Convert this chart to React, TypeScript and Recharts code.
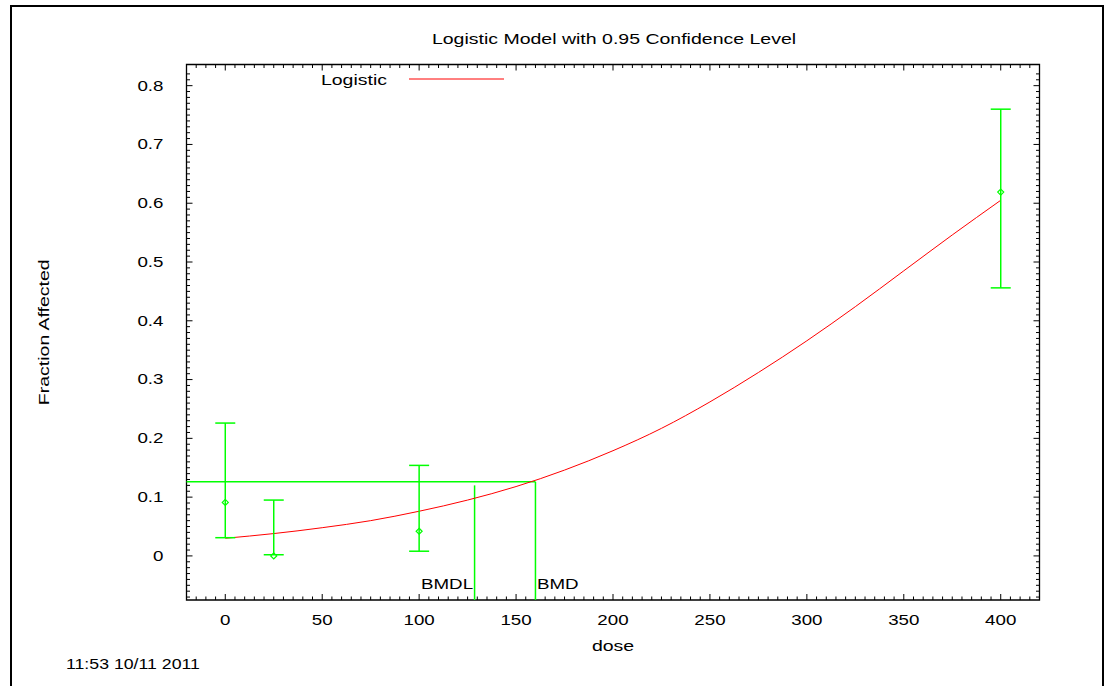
import React from 'react';
import {
  ComposedChart,
  Line,
  Scatter,
  ErrorBar,
  XAxis,
  YAxis,
  ReferenceLine,
  ReferenceDot,
  ReferenceArea,
  Legend,
} from 'recharts';

const FONT = '"Liberation Sans", Arial, Helvetica, sans-serif';
const GREEN = '#00ff00';
const RED = '#ff0000';

// observed dose groups (point + 95% bounds)
const doses = [0, 25, 100, 400];
const fracAffected = [0.091, 0.0, 0.042, 0.619];
const lowerCI = [0.031, 0.002, 0.008, 0.456];
const upperCI = [0.226, 0.095, 0.154, 0.76];

// fitted logistic curve
const curveDoses = [0, 25, 50, 75, 100, 125, 150, 175, 200, 225, 250, 275, 300, 325, 350, 375, 400];
const curveFrac = [
  0.03, 0.038, 0.048, 0.06, 0.076, 0.095, 0.118, 0.146, 0.179, 0.217, 0.262, 0.312, 0.366, 0.424,
  0.485, 0.546, 0.605,
];

const BMR_LEVEL = 0.126;
const BMD = 160;
const BMDL = 128.6;
const BMDL_TOP = 0.12;

const xTicks = [0, 50, 100, 150, 200, 250, 300, 350, 400];
const yTicks = [0, 0.1, 0.2, 0.3, 0.4, 0.5, 0.6, 0.7, 0.8];
const X_DOMAIN: [number, number] = [-20, 420];
const Y_DOMAIN: [number, number] = [-0.075, 0.836];

// minor tick positions on the frame (every 5 on x, every 0.01 on y)
const xMinor = Array.from({ length: 87 }, (_, i) => -15 + 5 * i);
const yMinor = Array.from({ length: 90 }, (_, i) => Math.round((-0.07 + 0.01 * i) * 100) / 100);

const obsData = doses.map((d, i) => ({
  dose: d,
  frac: fracAffected[i],
  err: [fracAffected[i] - lowerCI[i], upperCI[i] - fracAffected[i]],
}));
const curveData = curveDoses.map((d, i) => ({ dose: d, frac: curveFrac[i] }));

// gnuplot-ish text is wider than the font, so stretch it along the baseline
function WideText({ x, y, anchor = 'middle', sx = 1.25, angle = 0, size = 15, children }: any) {
  return (
    <g transform={`translate(${x},${y}) rotate(${angle}) scale(${sx},1)`}>
      <text x={0} y={0} textAnchor={anchor} dominantBaseline="central" fontSize={size} fontFamily={FONT} fill="#000">
        {children}
      </text>
    </g>
  );
}

const XTickLabel = (p: any) => (
  <WideText x={p.x} y={p.y + 20}>
    {p.payload.value}
  </WideText>
);
const YTickLabel = (p: any) => (
  <WideText x={p.x - 23} y={p.y} anchor="end">
    {p.payload.value}
  </WideText>
);

const Diamond = (p: any) => {
  const { cx, cy } = p;
  return (
    <path
      d={`M${cx},${cy - 3}L${cx + 3},${cy}L${cx},${cy + 3}L${cx - 3},${cy}Z`}
      fill="none"
      stroke={GREEN}
      strokeWidth={1.2}
    />
  );
};

// inward ticks at both ends of a full-height / full-width reference line
const vTicks = (len: number) => (p: any) => {
  const lo = Math.max(p.y1, p.y2);
  const hi = Math.min(p.y1, p.y2);
  return (
    <g stroke="#000" strokeWidth={1}>
      <line x1={p.x1} x2={p.x1} y1={lo} y2={lo - len} />
      <line x1={p.x1} x2={p.x1} y1={hi} y2={hi + len} />
    </g>
  );
};
const hTicks = (len: number) => (p: any) => {
  const l = Math.min(p.x1, p.x2);
  const r = Math.max(p.x1, p.x2);
  return (
    <g stroke="#000" strokeWidth={1}>
      <line x1={l} x2={l + len} y1={p.y1} y2={p.y1} />
      <line x1={r} x2={r - len} y1={p.y1} y2={p.y1} />
    </g>
  );
};
const isMajorX = (v: number) => v % 50 === 0;
const isMajorY = (v: number) => Math.abs(v * 10 - Math.round(v * 10)) < 1e-6;

export default function App() {
  return (
    <div style={{ position: 'absolute', left: 0, top: 0, width: 1109, height: 686, overflow: 'hidden', background: '#fff' }}>
      <div
        style={{
          position: 'absolute',
          left: 10,
          top: 5,
          width: 1094,
          height: 720,
          border: '2px solid #000',
          boxSizing: 'border-box',
        }}
      />
      <div
        style={{
          position: 'absolute',
          left: 614,
          top: 38,
          transform: 'translate(-50%,-50%) scaleX(1.3)',
          fontFamily: FONT,
          fontSize: 15,
          lineHeight: 1,
          whiteSpace: 'nowrap',
        }}
      >
        Logistic Model with 0.95 Confidence Level
      </div>
      <div
        style={{
          position: 'absolute',
          left: 66,
          top: 663,
          transform: 'translateY(-50%) scaleX(1.18)',
          transformOrigin: 'left center',
          fontFamily: FONT,
          fontSize: 15,
          lineHeight: 1,
          whiteSpace: 'nowrap',
        }}
      >
        11:53 10/11 2011
      </div>
      <ComposedChart
        width={1109}
        height={686}
        margin={{ top: 64.5, right: 69.5, bottom: 46, left: 126.5 }}
        style={{ position: 'absolute', left: 0, top: 0 }}
      >
        <XAxis
          dataKey="dose"
          type="number"
          domain={X_DOMAIN}
          allowDataOverflow
          ticks={xTicks}
          interval={0}
          height={40}
          axisLine={false}
          tickLine={false}
          tickSize={0}
          tickMargin={0}
          tick={XTickLabel}
          label={{
            content: (p: any) => (
              <WideText x={p.viewBox.x + p.viewBox.width / 2} y={p.viewBox.y + 46} sx={1.3}>
                dose
              </WideText>
            ),
          }}
        />
        <YAxis
          dataKey="frac"
          type="number"
          domain={Y_DOMAIN}
          allowDataOverflow
          ticks={yTicks}
          interval={0}
          width={60}
          axisLine={false}
          tickLine={false}
          tickSize={0}
          tickMargin={0}
          tick={YTickLabel}
          label={{
            content: (p: any) => (
              <WideText x={p.viewBox.x - 82.5} y={p.viewBox.y + p.viewBox.height / 2} angle={-90} sx={1.3}>
                Fraction Affected
              </WideText>
            ),
          }}
        />

        {/* plot frame with inward major/minor ticks on all sides */}
        <ReferenceArea
          x1={X_DOMAIN[0]}
          x2={X_DOMAIN[1]}
          y1={Y_DOMAIN[0]}
          y2={Y_DOMAIN[1]}
          fill="none"
          stroke="#000"
          strokeWidth={1.3}
          ifOverflow="visible"
        />
        {xMinor.map((v) => (
          <ReferenceLine key={`xt${v}`} x={v} shape={vTicks(isMajorX(v) ? 6 : 3.5)} />
        ))}
        {yMinor.map((v) => (
          <ReferenceLine key={`yt${v}`} y={v} shape={hTicks(isMajorY(v) ? 6 : 3.5)} />
        ))}

        <Legend
          layout="horizontal"
          verticalAlign="middle"
          align="center"
          wrapperStyle={{ position: 'absolute', left: 300, top: 68, width: 220, height: 24 }}
          content={() => (
            <svg width={220} height={24}>
              <WideText x={87} y={12} anchor="end" sx={1.3}>
                Logistic
              </WideText>
              <line x1={109} x2={204} y1={11} y2={11} stroke={RED} strokeWidth={1} />
            </svg>
          )}
        />

        <ReferenceLine
          segment={[{ x: X_DOMAIN[0], y: BMR_LEVEL }, { x: BMD, y: BMR_LEVEL }]}
          stroke={GREEN}
          strokeWidth={1.5}
          ifOverflow="visible"
        />
        <ReferenceLine
          segment={[{ x: BMD, y: BMR_LEVEL }, { x: BMD, y: Y_DOMAIN[0] }]}
          stroke={GREEN}
          strokeWidth={1.5}
          ifOverflow="visible"
        />
        <ReferenceLine
          segment={[{ x: BMDL, y: BMDL_TOP }, { x: BMDL, y: Y_DOMAIN[0] }]}
          stroke={GREEN}
          strokeWidth={1.5}
          ifOverflow="visible"
        />
        <ReferenceDot
          x={BMDL}
          y={Y_DOMAIN[0]}
          r={0}
          ifOverflow="visible"
          shape={(p: any) => (
            <WideText x={p.cx - 1.5} y={p.cy - 16} anchor="end">
              BMDL
            </WideText>
          )}
        />
        <ReferenceDot
          x={BMD}
          y={Y_DOMAIN[0]}
          r={0}
          ifOverflow="visible"
          shape={(p: any) => (
            <WideText x={p.cx + 1.5} y={p.cy - 16} anchor="start">
              BMD
            </WideText>
          )}
        />

        <Line
          data={curveData}
          dataKey="frac"
          type="monotone"
          stroke={RED}
          strokeWidth={1}
          dot={false}
          activeDot={false}
          isAnimationActive={false}
          legendType="none"
        />
        <Scatter data={obsData} dataKey="frac" shape={Diamond} isAnimationActive={false} legendType="none">
          <ErrorBar dataKey="err" direction="y" width={10} stroke={GREEN} strokeWidth={1.5} isAnimationActive={false} />
        </Scatter>
      </ComposedChart>
    </div>
  );
}
